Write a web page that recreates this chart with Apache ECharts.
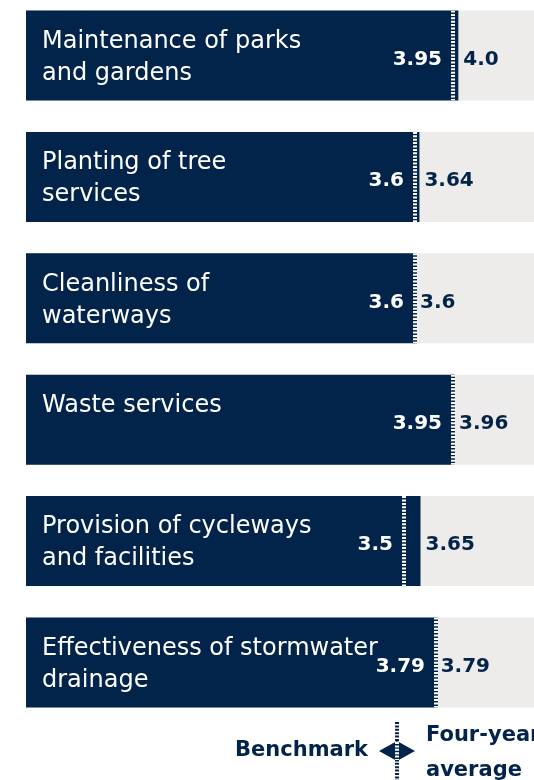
<!DOCTYPE html>
<html>
<head>
<meta charset="utf-8">
<script src="https://cdn.jsdelivr.net/npm/echarts@6/dist/echarts.min.js"></script>
<style>
  html, body { margin: 0; padding: 0; background: #fff; }
  #main { width: 534px; height: 780px; }
</style>
</head>
<body>
<div id="main"></div>
<script>
// service areas, top to bottom
const categories = [
  'Maintenance of parks\nand gardens',
  'Planting of tree\nservices',
  'Cleanliness of\nwaterways',
  'Waste services',
  'Provision of cycleways\nand facilities',
  'Effectiveness of stormwater\ndrainage'
];
const fourYearAverage = [4.0, 3.64, 3.6, 3.96, 3.65, 3.79];
const benchmark = [3.95, 3.6, 3.6, 3.95, 3.5, 3.79];
const averageLabels = ['4.0', '3.64', '3.6', '3.96', '3.65', '3.79'];
const benchmarkLabels = ['3.95', '3.6', '3.6', '3.95', '3.5', '3.79'];

const NAVY = '#03244a';
const GREY = '#edecea';
const FONT = '"DejaVu Sans"';
const BAR_H = 90;

const chartDom = document.getElementById('main');
const myChart = echarts.init(chartDom);

const option = {
  animation: false,
  grid: { left: 26, right: 0, top: 55.5, height: 607 },
  xAxis: {
    type: 'value', min: 0, max: 4.7,
    show: false
  },
  yAxis: {
    type: 'category', data: categories, inverse: true,
    boundaryGap: false,
    show: false
  },
  series: [
    {
      type: 'bar',
      data: fourYearAverage,
      barWidth: BAR_H,
      itemStyle: { color: NAVY },
      showBackground: true,
      backgroundStyle: { color: GREY },
      label: {
        show: true,
        position: [16, 15],
        align: 'left',
        verticalAlign: 'top',
        formatter: (p) => categories[p.dataIndex],
        color: '#fff',
        fontFamily: FONT,
        fontSize: 24,
        lineHeight: 32
      },
      z: 2
    },
    {
      // four-year average value, just right of the bar end
      type: 'bar',
      data: fourYearAverage,
      barWidth: BAR_H,
      barGap: '-100%',
      itemStyle: { color: 'transparent' },
      label: {
        show: true,
        position: 'right',
        distance: 5,
        offset: [0, 4],
        formatter: (p) => averageLabels[p.dataIndex],
        color: NAVY,
        fontFamily: FONT,
        fontWeight: 'bold',
        fontSize: 20
      },
      z: 3
    },
    {
      // benchmark dotted marker
      type: 'custom',
      data: benchmark.map((v, i) => [v, i]),
      encode: { x: 0, y: 1 },
      z: 4,
      renderItem: (params, api) => {
        const pt = api.coord([api.value(0), api.value(1)]);
        const x = Math.round(pt[0]);
        const shape = { x1: x, y1: pt[1] - BAR_H / 2, x2: x, y2: pt[1] + BAR_H / 2 };
        return {
          type: 'group',
          children: [
            { type: 'line', shape: shape, style: { stroke: NAVY, lineWidth: 4 } },
            { type: 'line', shape: shape, style: { stroke: '#fff', lineWidth: 4, lineDash: [2, 1.4] } },
            {
              type: 'text',
              x: x - 11,
              y: pt[1] + 4,
              style: {
                text: benchmarkLabels[params.dataIndex],
                fill: '#fff',
                fontFamily: FONT,
                fontWeight: 'bold',
                fontSize: 20,
                align: 'right',
                verticalAlign: 'middle'
              }
            }
          ]
        };
      }
    }
  ],
  graphic: [
    {
      type: 'text', x: 368, y: 751,
      style: { text: 'Benchmark', fill: NAVY, fontFamily: FONT, fontWeight: 'bold', fontSize: 21, align: 'right', verticalAlign: 'middle' }
    },
    {
      type: 'line', shape: { x1: 397, y1: 722, x2: 397, y2: 780 },
      style: { stroke: NAVY, lineWidth: 4, lineDash: [2, 1.4] }
    },
    {
      type: 'polygon', shape: { points: [[379, 751], [397, 741], [415, 751], [397, 761]] },
      style: { fill: NAVY }
    },
    {
      type: 'line', shape: { x1: 397, y1: 742, x2: 397, y2: 760 },
      style: { stroke: '#fff', lineWidth: 4, lineDash: [2, 1.4] }
    },
    {
      type: 'text', x: 426, y: 753,
      style: { text: 'Four-year\naverage', fill: NAVY, fontFamily: FONT, fontWeight: 'bold', fontSize: 21, lineHeight: 35, align: 'left', verticalAlign: 'middle' }
    }
  ]
};

option && myChart.setOption(option);
</script>
</body>
</html>
